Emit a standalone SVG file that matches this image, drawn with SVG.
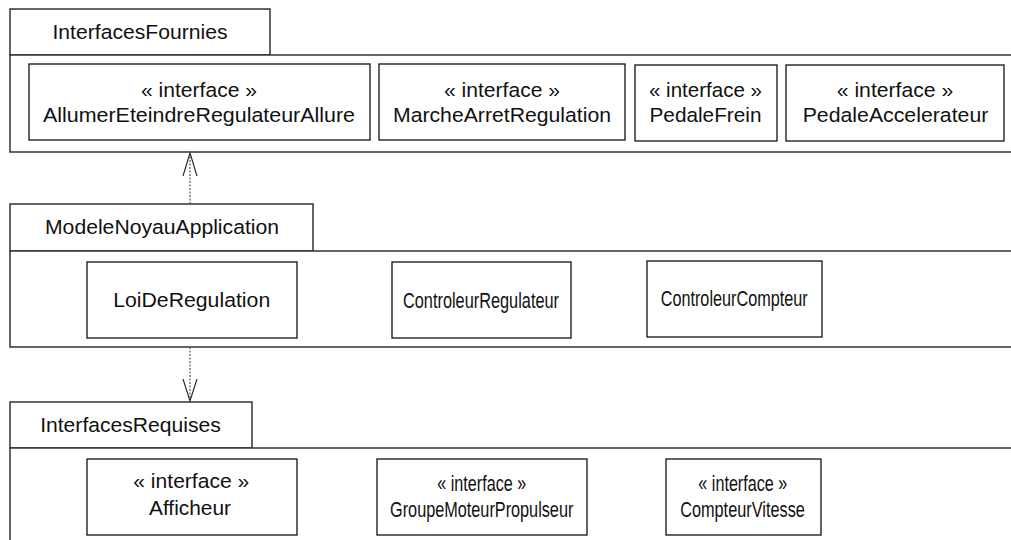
<svg xmlns="http://www.w3.org/2000/svg" width="1011" height="540" viewBox="0 0 1011 540">
  <style>
    .pkg { fill: #ffffff; stroke: #333333; stroke-width: 1.5; }
    .cls { fill: #ffffff; stroke: #111111; stroke-width: 1.3; }
    text { font-family: "Liberation Sans", Arial, sans-serif; font-size: 20.5px; fill: #111111; text-anchor: middle; }
    text.narrow { font-size: 22px; }
    .dep { fill: none; stroke: #555555; stroke-width: 1.2; stroke-dasharray: 2 1.5; }
    .head { fill: none; stroke: #222222; stroke-width: 1.1; }
  </style>
  <rect width="1011" height="540" fill="#ffffff"/>

  <!-- Package: InterfacesFournies -->
  <g id="pkg-interfaces-fournies">
    <rect class="pkg" x="10" y="9" width="260" height="46"/>
    <rect class="pkg" x="10" y="55" width="1010" height="97"/>
    <text x="140" y="39" textLength="175" lengthAdjust="spacingAndGlyphs">InterfacesFournies</text>
  </g>
  <g id="if-allumer">
    <rect class="cls" x="29" y="64" width="341" height="76"/>
    <text x="199" y="96.7" textLength="116" lengthAdjust="spacingAndGlyphs">« interface »</text>
    <text x="199" y="121.7" textLength="312" lengthAdjust="spacingAndGlyphs">AllumerEteindreRegulateurAllure</text>
  </g>
  <g id="if-marche">
    <rect class="cls" x="379" y="64" width="246" height="76"/>
    <text x="502" y="96.7" textLength="116" lengthAdjust="spacingAndGlyphs">« interface »</text>
    <text x="502" y="121.7" textLength="218" lengthAdjust="spacingAndGlyphs">MarcheArretRegulation</text>
  </g>
  <g id="if-frein">
    <rect class="cls" x="635" y="65" width="142" height="76"/>
    <text x="705.5" y="96.7" textLength="113" lengthAdjust="spacingAndGlyphs">« interface »</text>
    <text x="705.5" y="121.7" textLength="112" lengthAdjust="spacingAndGlyphs">PedaleFrein</text>
  </g>
  <g id="if-accel">
    <rect class="cls" x="786" y="65" width="218" height="76"/>
    <text x="895" y="96.7" textLength="116.5" lengthAdjust="spacingAndGlyphs">« interface »</text>
    <text x="895.5" y="121.7" textLength="185.7" lengthAdjust="spacingAndGlyphs">PedaleAccelerateur</text>
  </g>

  <!-- Package: ModeleNoyauApplication -->
  <g id="pkg-modele-noyau">
    <rect class="pkg" x="10" y="204" width="303" height="47"/>
    <rect class="pkg" x="10" y="251" width="1010" height="96"/>
    <text x="162" y="234" textLength="234" lengthAdjust="spacingAndGlyphs">ModeleNoyauApplication</text>
  </g>
  <g id="cls-loi">
    <rect class="cls" x="87" y="262" width="210" height="76"/>
    <text x="191.7" y="306.7" textLength="157" lengthAdjust="spacingAndGlyphs">LoiDeRegulation</text>
  </g>
  <!-- condensed labels: drawn with a horizontal squeeze -->
  <g id="cls-ctrl-regulateur">
    <rect class="cls" x="392" y="262" width="179" height="76"/>
    <text class="narrow" transform="translate(481 307.5) scale(0.742 1)">ControleurRegulateur</text>
  </g>
  <g id="cls-ctrl-compteur">
    <rect class="cls" x="647" y="261" width="175" height="76"/>
    <text class="narrow" transform="translate(734.2 306) scale(0.738 1)">ControleurCompteur</text>
  </g>

  <!-- Package: InterfacesRequises -->
  <g id="pkg-interfaces-requises">
    <rect class="pkg" x="10" y="402" width="242" height="46"/>
    <rect class="pkg" x="10" y="448" width="1010" height="110"/>
    <text x="130.5" y="431.7" textLength="180.7" lengthAdjust="spacingAndGlyphs">InterfacesRequises</text>
  </g>
  <g id="ir-afficheur">
    <rect class="cls" x="87" y="459" width="210" height="76"/>
    <text x="191.3" y="488.3" textLength="116" lengthAdjust="spacingAndGlyphs">« interface »</text>
    <text x="190" y="515" textLength="82" lengthAdjust="spacingAndGlyphs">Afficheur</text>
  </g>
  <g id="ir-groupe">
    <rect class="cls" x="377" y="459" width="210" height="76"/>
    <text class="narrow" transform="translate(481.7 490.5) scale(0.735 1)">« interface »</text>
    <text class="narrow" transform="translate(481.7 516.5) scale(0.739 1)">GroupeMoteurPropulseur</text>
  </g>
  <g id="ir-compteur">
    <rect class="cls" x="666" y="459" width="155" height="76"/>
    <text class="narrow" transform="translate(742.8 490.5) scale(0.735 1)">« interface »</text>
    <text class="narrow" transform="translate(742.5 516.5) scale(0.741 1)">CompteurVitesse</text>
  </g>

  <!-- Dependencies -->
  <g id="connectors">
    <line class="dep" x1="190" y1="204" x2="190" y2="154"/>
    <polyline class="head" points="183,176 190,153 197,176"/>
    <line class="dep" x1="190" y1="347" x2="190" y2="400"/>
    <polyline class="head" points="183,379 190,401 197,379"/>
  </g>
</svg>
